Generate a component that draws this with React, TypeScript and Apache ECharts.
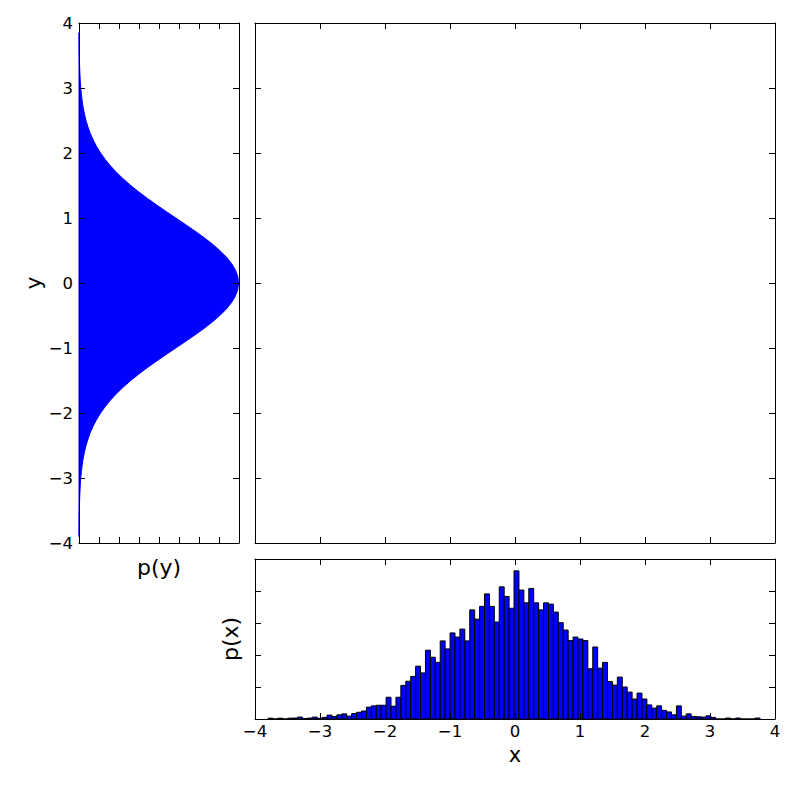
import React, { useEffect, useRef } from "react";
import * as echarts from "echarts";

// Histogram of x: 100 bins starting at binStart, each binWidth wide (density heights)
const binStart = -3.8;
const binWidth = 0.0757;
const histHeights = [
  0.0025, 0, 0.0025, 0, 0.0025, 0.003, 0.006, 0.0015, 0.003, 0.006,
  0.002, 0.005, 0.012, 0.008, 0.013, 0.016, 0.009, 0.017, 0.021, 0.025,
  0.037, 0.041, 0.043, 0.043, 0.068, 0.04, 0.068, 0.105, 0.118, 0.133,
  0.165, 0.144, 0.215, 0.193, 0.177, 0.244, 0.219, 0.269, 0.256, 0.281,
  0.244, 0.341, 0.312, 0.352, 0.391, 0.352, 0.303, 0.413, 0.383, 0.346,
  0.463, 0.403, 0.363, 0.408, 0.363, 0.341, 0.363, 0.359, 0.334, 0.301,
  0.278, 0.245, 0.256, 0.25, 0.245, 0.157, 0.225, 0.159, 0.177, 0.117,
  0.106, 0.131, 0.1, 0.084, 0.0625, 0.081, 0.0625, 0.044, 0.034, 0.041,
  0.027, 0.022, 0.013, 0.041, 0.009, 0.016, 0.008, 0.007, 0.006, 0.01,
  0.005, 0, 0, 0.003, 0, 0.003, 0, 0, 0, 0.003,
];

// Marginal density curve of y (left panel)
const curveY = [
  -3.9, -3.8, -3.7, -3.6, -3.5, -3.4, -3.3, -3.2, -3.1, -3.0,
  -2.9, -2.8, -2.7, -2.6, -2.5, -2.4, -2.3, -2.2, -2.1, -2.0,
  -1.9, -1.8, -1.7, -1.6, -1.5, -1.4, -1.3, -1.2, -1.1, -1.0,
  -0.9, -0.8, -0.7, -0.6, -0.5, -0.4, -0.3, -0.2, -0.1, 0.0,
  0.1, 0.2, 0.3, 0.4, 0.5, 0.6, 0.7, 0.8, 0.9, 1.0,
  1.1, 1.2, 1.3, 1.4, 1.5, 1.6, 1.7, 1.8, 1.9, 2.0,
  2.1, 2.2, 2.3, 2.4, 2.5, 2.6, 2.7, 2.8, 2.9, 3.0,
  3.1, 3.2, 3.3, 3.4, 3.5, 3.6, 3.7, 3.8, 3.85,
];
const curveP = [
  0.0002, 0.0003, 0.0004, 0.0006, 0.0009, 0.0012, 0.0017, 0.0024, 0.0033, 0.0044,
  0.006, 0.0079, 0.0104, 0.0136, 0.0175, 0.0224, 0.0283, 0.0355, 0.044, 0.054,
  0.0656, 0.079, 0.094, 0.1109, 0.1295, 0.1497, 0.1714, 0.1942, 0.2179, 0.242,
  0.2661, 0.2897, 0.3123, 0.3332, 0.3521, 0.3683, 0.3814, 0.391, 0.397, 0.3989,
  0.397, 0.391, 0.3814, 0.3683, 0.3521, 0.3332, 0.3123, 0.2897, 0.2661, 0.242,
  0.2179, 0.1942, 0.1714, 0.1497, 0.1295, 0.1109, 0.094, 0.079, 0.0656, 0.054,
  0.044, 0.0355, 0.0283, 0.0224, 0.0175, 0.0136, 0.0104, 0.0079, 0.006, 0.0044,
  0.0033, 0.0024, 0.0017, 0.0012, 0.0009, 0.0006, 0.0004, 0.0003, 0.0002,
];

const font = "DejaVu Sans";
const minusFmt = (v: number) => (v < 0 ? "\u2212" + Math.abs(v) : String(v));

function axisBase(extra: any) {
  return {
    axisLine: { show: true, onZero: false, lineStyle: { color: "#000", width: 1 } },
    axisTick: { show: true, inside: true, length: 6, lineStyle: { color: "#000", width: 1 } },
    splitLine: { show: false },
    axisLabel: { show: false },
    z: 5,
    ...extra,
  };
}

export default function App() {
  const ref = useRef<HTMLDivElement>(null);
  useEffect(() => {
    if (!ref.current) return;
    const chart = echarts.init(ref.current, null, { renderer: "svg" });

    const histData = histHeights.map((h, k) => [
      binStart + k * binWidth,
      binStart + (k + 1) * binWidth,
      h,
    ]);
    const curveData = curveY.map((y, i) => [curveP[i], y]);

    const labelStyle = { show: true, color: "#000", fontSize: 16.5, lineHeight: 17, fontFamily: font };

    const option: any = {
      animation: false,
      backgroundColor: "#fff",
      grid: [
        { left: 79, top: 23, width: 160, height: 520 },
        { left: 255, top: 23, width: 520, height: 520 },
        { left: 255, top: 559, width: 520, height: 160 },
      ],
      xAxis: [
        axisBase({ gridIndex: 0, type: "value", min: 0, max: 0.4, interval: 0.05, position: "bottom" }),
        axisBase({ gridIndex: 0, type: "value", min: 0, max: 0.4, interval: 0.05, position: "top" }),
        axisBase({ gridIndex: 1, type: "value", min: -4, max: 4, interval: 1, position: "bottom" }),
        axisBase({ gridIndex: 1, type: "value", min: -4, max: 4, interval: 1, position: "top" }),
        axisBase({
          gridIndex: 2, type: "value", min: -4, max: 4, interval: 1, position: "bottom",
          axisLabel: { ...labelStyle, margin: 4, formatter: minusFmt },
        }),
        axisBase({ gridIndex: 2, type: "value", min: -4, max: 4, interval: 1, position: "top" }),
      ],
      yAxis: [
        axisBase({
          gridIndex: 0, type: "value", min: -4, max: 4, interval: 1, position: "left",
          axisLabel: { ...labelStyle, margin: 6, formatter: minusFmt },
        }),
        axisBase({ gridIndex: 0, type: "value", min: -4, max: 4, interval: 1, position: "right" }),
        axisBase({ gridIndex: 1, type: "value", min: -4, max: 4, interval: 1, position: "left" }),
        axisBase({ gridIndex: 1, type: "value", min: -4, max: 4, interval: 1, position: "right" }),
        axisBase({ gridIndex: 2, type: "value", min: 0, max: 0.5, interval: 0.1, position: "left" }),
        axisBase({ gridIndex: 2, type: "value", min: 0, max: 0.5, interval: 0.1, position: "right" }),
      ],
      series: [
        {
          type: "custom",
          xAxisIndex: 0,
          yAxisIndex: 0,
          data: curveData,
          encode: { x: 0, y: 1 },
          renderItem: (params: any, api: any) => {
            if (params.dataIndex !== 0) return null;
            const pts: number[][] = [];
            pts.push(api.coord([0, curveY[0]]));
            for (let i = 0; i < curveY.length; i++) pts.push(api.coord([curveP[i], curveY[i]]));
            pts.push(api.coord([0, curveY[curveY.length - 1]]));
            return {
              type: "polygon",
              shape: { points: pts },
              style: { fill: "#0000ff", stroke: "#0000ff", lineWidth: 1 },
            };
          },
        },
        {
          type: "scatter",
          xAxisIndex: 2,
          yAxisIndex: 2,
          data: [],
        },
        {
          type: "custom",
          xAxisIndex: 4,
          yAxisIndex: 4,
          data: histData,
          encode: { x: [0, 1], y: 2 },
          renderItem: (params: any, api: any) => {
            const x0 = api.value(0);
            const x1 = api.value(1);
            const h = api.value(2);
            const p0 = api.coord([x0, h]);
            const p1 = api.coord([x1, 0]);
            return {
              type: "rect",
              shape: { x: p0[0], y: p0[1], width: p1[0] - p0[0], height: p1[1] - p0[1] },
              style: { fill: "#0000ff", stroke: "#000", lineWidth: 1 },
            };
          },
        },
      ],
      graphic: [
        {
          type: "text", x: 33, y: 283, rotation: Math.PI / 2,
          style: { text: "y", fontSize: 22, lineHeight: 18, fontFamily: font, fill: "#000", align: "center", verticalAlign: "middle" },
        },
        {
          type: "text", x: 159, y: 567,
          style: { text: "p(y)", fontSize: 22, lineHeight: 22, fontFamily: font, fill: "#000", align: "center", verticalAlign: "middle" },
        },
        {
          type: "text", x: 230, y: 639, rotation: Math.PI / 2,
          style: { text: "p(x)", fontSize: 22, lineHeight: 22, fontFamily: font, fill: "#000", align: "center", verticalAlign: "middle" },
        },
        {
          type: "text", x: 515, y: 755,
          style: { text: "x", fontSize: 21, lineHeight: 16, fontFamily: font, fill: "#000", align: "center", verticalAlign: "middle" },
        },
      ],
    };
    chart.setOption(option);
    return () => chart.dispose();
  }, []);
  return (
    <div
      ref={ref}
      style={{ position: "fixed", left: 0, top: 0, width: 800, height: 800, background: "#fff" }}
    />
  );
}
